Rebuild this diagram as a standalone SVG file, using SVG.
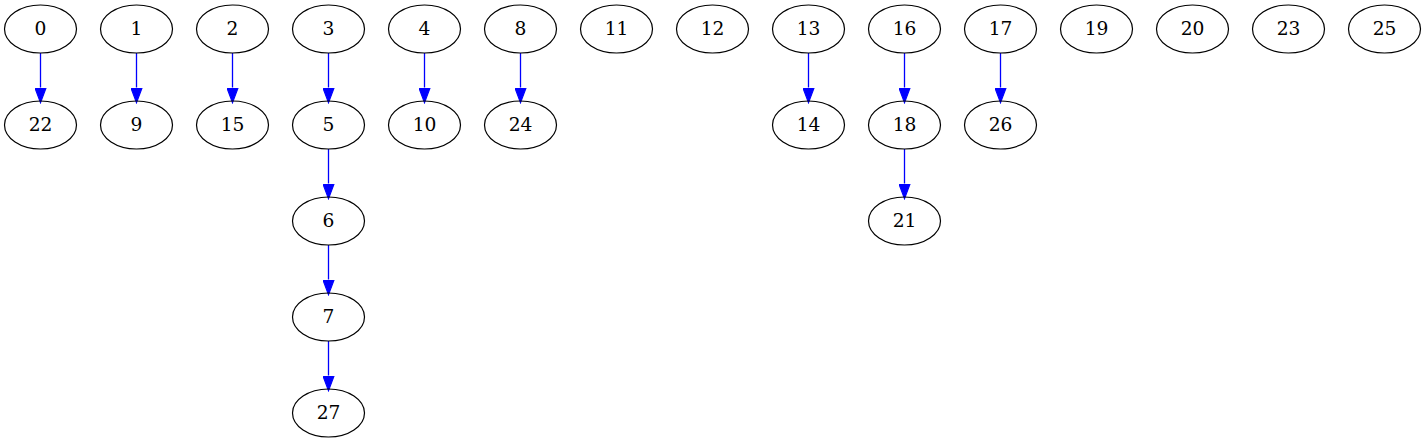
<svg xmlns="http://www.w3.org/2000/svg" width="1427" height="443" viewBox="0 0 1427 443">
<style>
.n ellipse{fill:none;stroke:#000;stroke-width:1.2}
.n text{font-family:"DejaVu Serif","Liberation Serif",serif;font-size:18.67px;text-anchor:middle;fill:#000}
.e line{stroke:#0000ff;stroke-width:1.3;marker-end:url(#ah)}
</style>
<defs>
<marker id="ah" markerUnits="userSpaceOnUse" markerWidth="16" markerHeight="12" refX="0" refY="5" orient="auto" viewBox="0 0 14 10">
<path d="M0,0 L13.3,5 L0,10 z" fill="#0000ff" stroke="#0000ff" stroke-width="1"/>
</marker>
</defs>
<rect width="1427" height="443" fill="#fff"/>
<g id="edges" class="e">
<line x1="40.5" y1="53" x2="40.5" y2="87.5"/>
<line x1="136.5" y1="53" x2="136.5" y2="87.5"/>
<line x1="232.5" y1="53" x2="232.5" y2="87.5"/>
<line x1="328.5" y1="53" x2="328.5" y2="87.5"/>
<line x1="328.5" y1="149" x2="328.5" y2="183.5"/>
<line x1="328.5" y1="245" x2="328.5" y2="279.5"/>
<line x1="328.5" y1="341" x2="328.5" y2="375.5"/>
<line x1="424.5" y1="53" x2="424.5" y2="87.5"/>
<line x1="520.5" y1="53" x2="520.5" y2="87.5"/>
<line x1="808.5" y1="53" x2="808.5" y2="87.5"/>
<line x1="904.5" y1="53" x2="904.5" y2="87.5"/>
<line x1="904.5" y1="149" x2="904.5" y2="183.5"/>
<line x1="1000.5" y1="53" x2="1000.5" y2="87.5"/>
</g>
<g id="node0" class="n"><ellipse cx="40.5" cy="29" rx="36" ry="24"/><text x="40.5" y="35">0</text></g>
<g id="node1" class="n"><ellipse cx="136.5" cy="29" rx="36" ry="24"/><text x="136.5" y="35">1</text></g>
<g id="node2" class="n"><ellipse cx="232.5" cy="29" rx="36" ry="24"/><text x="232.5" y="35">2</text></g>
<g id="node3" class="n"><ellipse cx="328.5" cy="29" rx="36" ry="24"/><text x="328.5" y="35">3</text></g>
<g id="node4" class="n"><ellipse cx="424.5" cy="29" rx="36" ry="24"/><text x="424.5" y="35">4</text></g>
<g id="node8" class="n"><ellipse cx="520.5" cy="29" rx="36" ry="24"/><text x="520.5" y="35">8</text></g>
<g id="node11" class="n"><ellipse cx="616.5" cy="29" rx="36" ry="24"/><text x="616.5" y="35">11</text></g>
<g id="node12" class="n"><ellipse cx="712.5" cy="29" rx="36" ry="24"/><text x="712.5" y="35">12</text></g>
<g id="node13" class="n"><ellipse cx="808.5" cy="29" rx="36" ry="24"/><text x="808.5" y="35">13</text></g>
<g id="node16" class="n"><ellipse cx="904.5" cy="29" rx="36" ry="24"/><text x="904.5" y="35">16</text></g>
<g id="node17" class="n"><ellipse cx="1000.5" cy="29" rx="36" ry="24"/><text x="1000.5" y="35">17</text></g>
<g id="node19" class="n"><ellipse cx="1096.5" cy="29" rx="36" ry="24"/><text x="1096.5" y="35">19</text></g>
<g id="node20" class="n"><ellipse cx="1192.5" cy="29" rx="36" ry="24"/><text x="1192.5" y="35">20</text></g>
<g id="node23" class="n"><ellipse cx="1288.5" cy="29" rx="36" ry="24"/><text x="1288.5" y="35">23</text></g>
<g id="node25" class="n"><ellipse cx="1384.5" cy="29" rx="36" ry="24"/><text x="1384.5" y="35">25</text></g>
<g id="node22" class="n"><ellipse cx="40.5" cy="125" rx="36" ry="24"/><text x="40.5" y="131">22</text></g>
<g id="node9" class="n"><ellipse cx="136.5" cy="125" rx="36" ry="24"/><text x="136.5" y="131">9</text></g>
<g id="node15" class="n"><ellipse cx="232.5" cy="125" rx="36" ry="24"/><text x="232.5" y="131">15</text></g>
<g id="node5" class="n"><ellipse cx="328.5" cy="125" rx="36" ry="24"/><text x="328.5" y="131">5</text></g>
<g id="node10" class="n"><ellipse cx="424.5" cy="125" rx="36" ry="24"/><text x="424.5" y="131">10</text></g>
<g id="node24" class="n"><ellipse cx="520.5" cy="125" rx="36" ry="24"/><text x="520.5" y="131">24</text></g>
<g id="node14" class="n"><ellipse cx="808.5" cy="125" rx="36" ry="24"/><text x="808.5" y="131">14</text></g>
<g id="node18" class="n"><ellipse cx="904.5" cy="125" rx="36" ry="24"/><text x="904.5" y="131">18</text></g>
<g id="node26" class="n"><ellipse cx="1000.5" cy="125" rx="36" ry="24"/><text x="1000.5" y="131">26</text></g>
<g id="node6" class="n"><ellipse cx="328.5" cy="221" rx="36" ry="24"/><text x="328.5" y="227">6</text></g>
<g id="node21" class="n"><ellipse cx="904.5" cy="221" rx="36" ry="24"/><text x="904.5" y="227">21</text></g>
<g id="node7" class="n"><ellipse cx="328.5" cy="317" rx="36" ry="24"/><text x="328.5" y="323">7</text></g>
<g id="node27" class="n"><ellipse cx="328.5" cy="413" rx="36" ry="24"/><text x="328.5" y="419">27</text></g>
</svg>
